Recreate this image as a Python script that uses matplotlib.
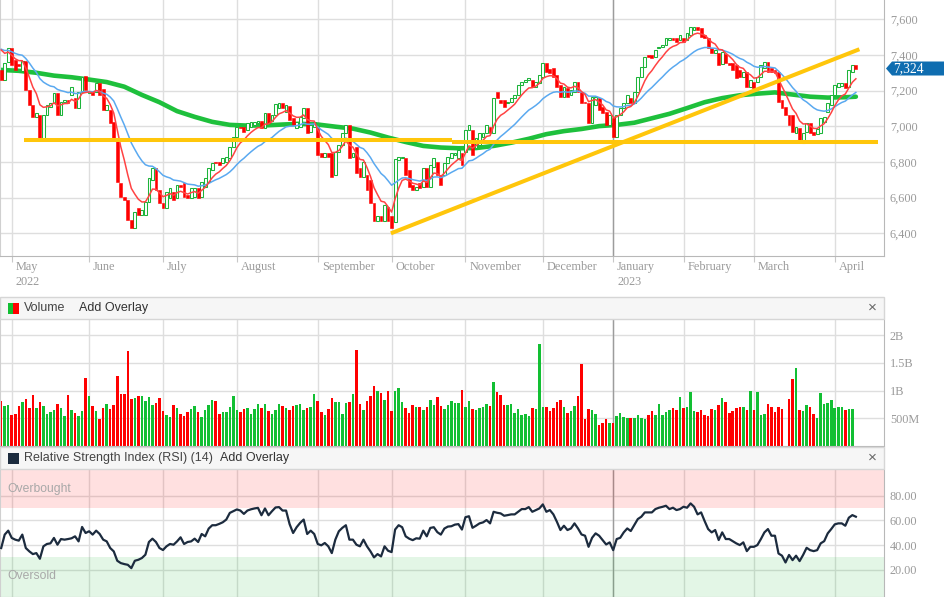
import numpy as np
import pandas as pd
import matplotlib
matplotlib.use("Agg")
import matplotlib.pyplot as plt
import matplotlib.transforms as mtransforms
from matplotlib.patches import Rectangle, Polygon

plt.rcParams['font.family'] = ['Liberation Sans', 'DejaVu Sans']

W, H = 945, 597

# ASX trading calendar for the period shown
holidays = ['2022-06-13', '2022-09-22', '2022-12-26', '2022-12-27',
            '2023-01-02', '2023-01-26', '2023-04-07', '2023-04-10']
dates = pd.bdate_range('2022-04-27', '2023-04-13')
dates = dates[~dates.isin(pd.to_datetime(holidays))]

# daily candles (index points)
opens = [
    7316, 7262, 7363, 7437, 7370, 7350, 7308, 7366, 7204, 7120,
    7054, 7063, 6933, 7063, 7110, 7130, 7185, 7063, 7135, 7148,
    7176, 7157, 7105, 7194, 7284, 7185, 7200, 7190, 7241, 7209,
    7092, 7092, 7022, 6933, 6680, 6606, 6587, 6475, 6428, 6540,
    6505, 6503, 6578, 6699, 6765, 6643, 6568, 6540, 6596, 6634,
    6596, 6671, 6680, 6615, 6596, 6606, 6652, 6606, 6662, 6690,
    6755, 6802, 6802, 6793, 6802, 6821, 6886, 6942, 6998, 6998,
    6979, 6998, 7008, 7017, 7030, 6989, 7073, 7030, 7064, 7105,
    7129, 7082, 7116, 7045, 6989, 6998, 7045, 7101, 6970, 6998,
    6998, 6849, 6830, 6849, 6849, 6727, 6858, 6895, 6961, 7008,
    6830, 6886, 6765, 6718, 6727, 6699, 6568, 6468, 6500, 6470,
    6550, 6500, 6466, 6811, 6821, 6821, 6755, 6671, 6643, 6680,
    6662, 6765, 6662, 6774, 6802, 6727, 6727, 6793, 6821, 6839,
    6821, 6849, 6858, 6979, 6979, 6877, 6895, 6942, 6961, 6998,
    6961, 7194, 7148, 7148, 7129, 7138, 7157, 7176, 7232, 7250,
    7260, 7260, 7222, 7241, 7279, 7353, 7320, 7325, 7288, 7232,
    7166, 7213, 7176, 7194, 7250, 7194, 7138, 7129, 7017, 7120,
    7157, 7110, 7082, 7008, 7045, 6942, 7064, 7101, 7129, 7157,
    7129, 7194, 7279, 7335, 7400, 7400, 7391, 7437, 7447, 7456,
    7484, 7497, 7497, 7484, 7493, 7484, 7512, 7540, 7559, 7550,
    7512, 7493, 7437, 7409, 7409, 7347, 7405, 7353, 7353, 7344,
    7316, 7279, 7307, 7222, 7250, 7250, 7279, 7325, 7363, 7325,
    7316, 7307, 7148, 7110, 7064, 7064, 6961, 6989, 6905, 6970,
    7017, 6966, 6957, 6961, 7026, 7082, 7120, 7176, 7222, 7226,
    7241, 7222, 7307, 7344,
]
closes = [
    7262, 7353, 7437, 7345, 7318, 7338, 7366, 7204, 7120, 7054,
    7073, 6933, 7063, 7120, 7130, 7185, 7063, 7138, 7148, 7129,
    7222, 7105, 7194, 7279, 7204, 7200, 7175, 7241, 7176, 7092,
    7120, 7017, 6933, 6690, 6606, 6587, 6475, 6428, 6522, 6505,
    6531, 6578, 6708, 6765, 6643, 6568, 6540, 6634, 6652, 6587,
    6671, 6660, 6606, 6596, 6652, 6652, 6596, 6690, 6708, 6765,
    6793, 6793, 6783, 6821, 6830, 6886, 6942, 6998, 6990, 6970,
    7017, 7022, 7026, 7030, 6989, 7073, 7017, 7064, 7123, 7129,
    7101, 7120, 7036, 7008, 7026, 7054, 7101, 6961, 7008, 7026,
    6839, 6830, 6849, 6830, 6718, 6858, 6895, 6961, 7008, 6821,
    6849, 6737, 6718, 6802, 6643, 6568, 6468, 6500, 6470, 6560,
    6470, 6430, 6815, 6830, 6830, 6727, 6662, 6643, 6662, 6652,
    6765, 6662, 6783, 6821, 6727, 6671, 6793, 6830, 6849, 6849,
    6867, 6783, 6979, 7008, 6839, 6933, 6961, 6961, 7008, 6961,
    7157, 7157, 7129, 7110, 7138, 7157, 7176, 7232, 7250, 7260,
    7269, 7222, 7250, 7288, 7353, 7307, 7300, 7279, 7222, 7166,
    7222, 7166, 7204, 7250, 7194, 7129, 7129, 7017, 7166, 7166,
    7092, 7073, 7008, 7064, 6942, 7064, 7101, 7129, 7176, 7129,
    7194, 7279, 7335, 7391, 7391, 7381, 7428, 7447, 7456, 7493,
    7497, 7484, 7475, 7512, 7475, 7521, 7559, 7559, 7540, 7503,
    7493, 7437, 7409, 7428, 7344, 7419, 7353, 7344, 7316, 7269,
    7279, 7307, 7222, 7260, 7213, 7279, 7344, 7363, 7307, 7307,
    7300, 7138, 7101, 7064, 7008, 6970, 6998, 6905, 6961, 7017,
    6961, 6951, 6985, 7045, 7054, 7129, 7176, 7232, 7241, 7241,
    7213, 7316, 7344, 7324,
]
# volume in millions (None = no bar)
volumes_m = [
    807, 716, 734, 554, 572, 716, 789, 843, 680, 915,
    680, 789, 716, 572, 608, 644, 752, 680, 536, 915,
    644, 590, 536, 626, 1222, 897, 716, 626, 482, 680,
    752, 662, 734, 1258, 933, 933, 1710, 843, 861, 897,
    897, 807, 879, 734, 770, 861, 626, 554, 518, 734,
    680, 572, 536, 608, 662, 716, 608, 518, 644, 734,
    825, 807, 572, 608, 608, 698, 897, 644, 608, 662,
    680, 572, 662, 752, 680, 752, 626, 572, 644, 752,
    716, 680, 644, 716, 734, 752, 644, 680, 698, 933,
    807, 608, 554, 662, 861, 789, 789, 572, 770, 789,
    933, 1728, 752, 644, 807, 897, 1078, 987, 951, 825,
    987, 626, 987, 1041, 789, 680, 590, 734, 698, 698,
    644, 698, 825, 734, 879, 716, 662, 734, 807, 770,
    770, 1005, 698, 807, 674, 644, 680, 704, 752, 716,
    1150, 969, 915, 734, 734, 752, 590, 662, 554, 572,
    536, 680, 662, 1836, 698, 698, 626, 680, 789, 825,
    698, 590, 626, 716, 897, 1475, 482, 662, 644, 572,
    373, 409, 482, 409, 409, 536, 590, 518, 500, 500,
    500, 554, 500, 482, 554, 626, 554, 752, 554, 608,
    644, 680, 644, 879, 680, 698, 969, 626, 608, 644,
    554, 536, 662, 644, 734, 861, 789, 590, 626, 680,
    698, 698, 644, 987, 644, 969, 554, 572, 752, 698,
    608, 698, 662, None, 843, 1204, 1403, 644, 626, 734,
    698, 572, 500, 951, 752, 770, 825, 680, 698, 698,
    644, 662, 662, None,
]
rsi = [
    37.6, 48.5, 51.7, 45.8, 44.4, 43.6, 48.5, 37.6, 34.9, 32.7,
    33.5, 28.9, 39.0, 40.9, 41.4, 45.8, 40.3, 44.9, 44.4, 44.9,
    45.5, 47.1, 43.0, 54.7, 49.8, 51.2, 48.5, 51.7, 49.0, 44.4,
    43.0, 37.6, 34.9, 27.3, 25.4, 24.6, 24.0, 21.3, 27.3, 28.1,
    29.5, 32.2, 42.5, 45.2, 42.5, 37.6, 36.0, 39.0, 40.9, 40.3,
    43.0, 46.3, 40.9, 42.5, 43.0, 45.2, 42.5, 49.0, 47.1, 53.4,
    56.1, 56.1, 57.2, 58.5, 60.7, 66.1, 67.5, 68.9, 68.0, 65.3,
    68.0, 69.0, 69.7, 70.2, 64.2, 69.7, 64.2, 67.5, 70.5, 70.8,
    68.0, 68.0, 57.0, 49.8, 54.5, 58.0, 60.7, 49.0, 51.7, 49.0,
    40.9, 39.8, 41.7, 39.0, 33.5, 44.4, 51.2, 54.0, 56.1, 44.4,
    44.4, 40.3, 39.0, 44.4, 39.0, 34.9, 30.0, 32.7, 30.8, 39.0,
    35.4, 34.3, 52.6, 56.1, 54.5, 47.1, 45.2, 44.0, 45.5, 45.2,
    51.7, 47.1, 53.9, 54.5, 50.5, 48.5, 53.4, 55.0, 55.3, 56.6,
    57.0, 52.6, 62.6, 63.4, 54.0, 55.7, 57.6, 58.4, 60.3, 57.6,
    67.0, 66.2, 65.7, 63.8, 64.3, 64.9, 64.9, 67.0, 69.2, 69.2,
    70.8, 67.0, 68.4, 69.7, 73.0, 67.0, 68.4, 64.9, 58.9, 52.2,
    55.7, 52.2, 53.5, 57.6, 53.5, 48.6, 47.6, 38.6, 45.9, 49.5,
    47.6, 44.1, 40.5, 42.2, 35.9, 44.9, 45.9, 50.3, 53.5, 51.4,
    56.2, 61.1, 63.0, 66.5, 66.5, 66.5, 69.2, 70.3, 71.0, 71.9,
    69.2, 70.3, 68.4, 69.2, 71.1, 70.3, 73.8, 71.1, 64.9, 66.5,
    59.5, 53.0, 50.3, 52.2, 44.1, 50.3, 44.9, 44.9, 43.2, 41.4,
    40.0, 42.2, 35.1, 38.6, 38.6, 40.0, 44.9, 50.3, 53.0, 47.6,
    47.6, 33.2, 31.4, 25.9, 32.0, 27.8, 31.4, 27.0, 32.0, 37.8,
    35.9, 35.1, 35.9, 41.4, 43.2, 49.5, 53.0, 56.8, 57.6, 57.6,
    55.7, 62.2, 64.3, 63.0,
]
# slow moving average, read every 5th session (plus the last one)
slow_ma_days = list(range(0, 241, 5)) + [243]
slow_ma = [
    7316, 7311, 7300, 7284, 7275, 7262, 7248, 7222, 7176, 7135,
    7085, 7053, 7025, 7008, 7004, 7005, 7010, 7014, 7010, 6998,
    6987, 6965, 6937, 6912, 6890, 6881, 6877, 6878, 6890, 6908,
    6930, 6956, 6973, 6985, 7001, 7008, 7020, 7045, 7070, 7102,
    7135, 7158, 7174, 7183, 7190, 7178, 7166, 7161, 7163, 7166,
]
# EMA levels just before the first session shown
fast_seed, mid_seed = 7483, 7450

# drawn annotations: (from session, to session, level) and rising trendline
support_segments = [(6.5, 128.2, 6921), (128.2, 249.3, 6913)]
trend_days = [110.8, 244.0]
trend_levels = [6400, 7432]

price_ticks = [6400, 6600, 6800, 7000, 7200, 7400, 7600]
vol_ticks = [500e6, 1e9, 1.5e9, 2e9]
vol_labels = ['500M', '1B', '1.5B', '2B']
rsi_ticks = [20, 40, 60, 80]

n = len(closes)
assert len(opens) == n and len(volumes_m) == n and len(rsi) == n
dates = dates[:n]
x = np.arange(n)
o = np.array(opens, float)
c = np.array(closes, float)
up = c >= o
vol = np.array([np.nan if v is None else v * 1e6 for v in volumes_m])

fast = pd.Series([fast_seed] + closes, dtype=float).ewm(span=7, adjust=False).mean().values[1:]
mid = pd.Series([mid_seed] + closes, dtype=float).ewm(span=20, adjust=False).mean().values[1:]

month_starts = [i for i in range(1, n) if dates[i].month != dates[i - 1].month]
jan_idx = [i for i in month_starts if dates[i].month == 1]

GREEN = '#12bf33'
GREEN_EDGE = '#1db43a'
RED = '#ff0000'
GRID = '#dedede'
SERIF = 'Liberation Serif'

fig = plt.figure(figsize=(W / 100, H / 100), dpi=100)


def px_rect(l, t, r, b):
    return [l / W, 1 - b / H, (r - l) / W, (b - t) / H]


ax_p = fig.add_axes(px_rect(0, 0, 884, 256))
ax_v = fig.add_axes(px_rect(0, 319, 884, 446))
ax_r = fig.add_axes(px_rect(0, 469, 884, 597))

for ax in (ax_p, ax_v, ax_r):
    ax.set_xlim(-0.34, 251.0)
    ax.set_xticks(month_starts)
    ax.grid(True, color=GRID, lw=1.0, zorder=0)
    ax.set_axisbelow(True)
    ax.yaxis.tick_right()
    ax.spines['top'].set_visible(False)
    ax.spines['left'].set_color('#d0d0d0')
    ax.spines['right'].set_color('#b8b8b8')
    ax.spines['bottom'].set_color('#b8b8b8')
    ax.tick_params(axis='y', length=0, pad=4.3, labelsize=8.8, labelcolor='#9a9a9a')
    ax.tick_params(axis='x', labelbottom=False)
    for j in jan_idx:
        ax.axvline(j, color='#9c9c9c', lw=1.0, zorder=0.6)

# ---- price panel
ax_p.set_ylim(6273, 7708)
ax_p.set_yticks(price_ticks, [f"{t:,}" for t in price_ticks])
ax_p.tick_params(axis='x', length=4, color='#c8c8c8', direction='out')

ax_p.plot(slow_ma_days, slow_ma, color='#1ec03c', lw=3.3,
          solid_capstyle='round', zorder=2)

body_lo = np.minimum(o, c)
body_h = np.maximum(np.abs(c - o), 3)
ax_p.bar(x[up], body_h[up], bottom=body_lo[up], width=0.8, facecolor='white',
         edgecolor=GREEN_EDGE, linewidth=0.75, zorder=3)
ax_p.bar(x[~up], body_h[~up], bottom=body_lo[~up], width=0.8, facecolor=RED,
         edgecolor=RED, linewidth=0.4, zorder=3)

ax_p.plot(x, mid, color='#5aa9f0', lw=1.1, zorder=4)
ax_p.plot(x, fast, color='#ff4343', lw=1.1, zorder=4)

for d0, d1, lvl in support_segments:
    ax_p.plot([d0, d1], [lvl, lvl], color='#ffc60b', lw=2.9, zorder=5,
              solid_capstyle='butt')
ax_p.plot(trend_days, trend_levels, color='#ffc60b', lw=2.9, zorder=5,
          solid_capstyle='butt')

# month / year labels under the price panel
lab_tr = mtransforms.blended_transform_factory(ax_p.transData, ax_p.transAxes)
first_label = True
for i in month_starts:
    t1 = mtransforms.offset_copy(lab_tr, fig=fig, x=4, y=-11, units='dots')
    ax_p.text(i, 0, dates[i].strftime('%B'), transform=t1, ha='left', va='center',
              fontsize=8.8, color='#9a9a9a', family=SERIF, clip_on=False)
    if first_label or dates[i].month == 1:
        t2 = mtransforms.offset_copy(lab_tr, fig=fig, x=4, y=-26, units='dots')
        ax_p.text(i, 0, dates[i].strftime('%Y'), transform=t2, ha='left', va='center',
                  fontsize=8.8, color='#9a9a9a', family=SERIF, clip_on=False)
        first_label = False

# last price tag
fig.canvas.draw()
y_last = ax_p.transData.transform((0, closes[-1]))[1] / H
hh = 7 / H
tag = Polygon([[886 / W, y_last], [892 / W, y_last + hh], [1.0, y_last + hh],
               [1.0, y_last - hh], [892 / W, y_last - hh]],
              closed=True, transform=fig.transFigure, facecolor='#0f6db0',
              edgecolor='none', zorder=10)
fig.add_artist(tag)
fig.text(893 / W, y_last, f"{closes[-1]:,}", ha='left', va='center', color='white',
         fontsize=9.8, family=SERIF, zorder=11)

# ---- volume panel
ax_v.set_ylim(0, 2.29e9)
ax_v.set_yticks(vol_ticks, vol_labels)
ax_v.tick_params(axis='x', length=0)
ok = ~np.isnan(vol)
ax_v.bar(x[ok & up], vol[ok & up], width=0.72, color=GREEN, zorder=2)
ax_v.bar(x[ok & ~up], vol[ok & ~up], width=0.72, color=RED, zorder=2)

# ---- RSI panel
ax_r.set_ylim(-2.1, 101.7)
ax_r.set_yticks(rsi_ticks, [f"{t:.2f}" for t in rsi_ticks])
ax_r.tick_params(axis='x', length=0)
ax_r.axhspan(70, 110, color='#ff0000', alpha=0.12, lw=0, zorder=1)
ax_r.axhspan(-10, 30, color='#00b61c', alpha=0.11, lw=0, zorder=1)
ax_r.plot(x, rsi, color='#1c2b3e', lw=1.6, zorder=3)
ax_r.text(7 / 884, 1 - (489 - 469) / 128, 'Overbought', transform=ax_r.transAxes,
          ha='left', va='center', fontsize=8.7, color='#a8a8a8')
ax_r.text(7 / 884, 1 - (576 - 469) / 128, 'Oversold', transform=ax_r.transAxes,
          ha='left', va='center', fontsize=8.7, color='#a8a8a8')

for lbl in ax_p.get_yticklabels() + ax_v.get_yticklabels() + ax_r.get_yticklabels():
    lbl.set_fontfamily(SERIF)


# ---- panel headers
def header(top, bottom, title, overlay_x):
    fig.add_artist(Rectangle((0, 1 - bottom / H), 884 / W, (bottom - top) / H,
                             transform=fig.transFigure, facecolor='#f6f6f6',
                             edgecolor='#d6d6d6', lw=1.0, zorder=5))
    ym = 1 - (top + bottom) / 2 / H
    fig.text(24 / W, ym, title, ha='left', va='center', fontsize=9, color='#444444', zorder=6)
    fig.text(overlay_x / W, ym, 'Add Overlay', ha='left', va='center', fontsize=9,
             color='#333333', zorder=6)
    fig.text(872 / W, ym, '\u00d7', ha='center', va='center', fontsize=11,
             color='#666666', zorder=6)
    return ym


ym = header(297, 319, 'Volume', 79)
fig.add_artist(Rectangle((8 / W, ym - 5.5 / H), 5.5 / W, 11 / H, transform=fig.transFigure,
                         facecolor=GREEN, edgecolor='none', zorder=6))
fig.add_artist(Rectangle((13.5 / W, ym - 5.5 / H), 5.5 / W, 11 / H, transform=fig.transFigure,
                         facecolor=RED, edgecolor='none', zorder=6))

ym = header(447, 469, 'Relative Strength Index (RSI) (14)', 220)
fig.add_artist(Rectangle((8 / W, ym - 5.5 / H), 11 / W, 11 / H, transform=fig.transFigure,
                         facecolor='#1c2b3e', edgecolor='none', zorder=6))

fig.savefig('out.png', dpi=100)
